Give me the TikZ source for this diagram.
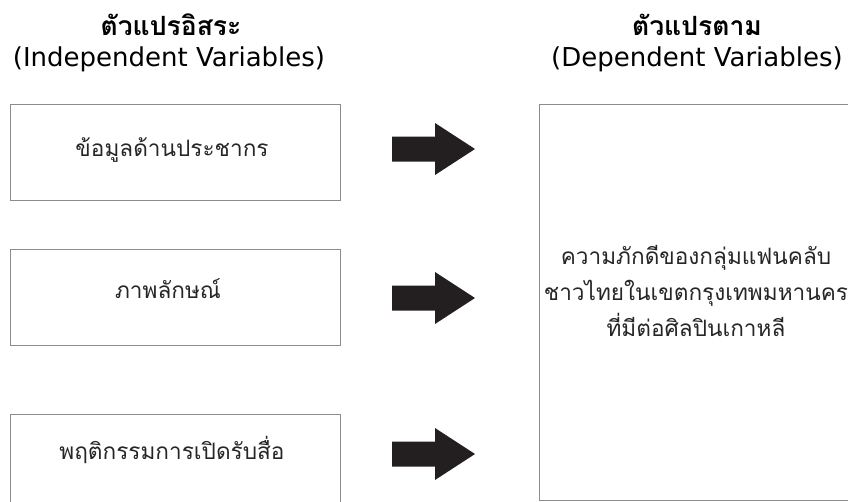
\documentclass[tikz,border=0pt]{standalone}
\usepackage{fontspec}
\newfontfamily\thaifont[Script=Thai]{Loma}
\newfontfamily\latfont{DejaVu Sans}
\definecolor{boxline}{RGB}{140,140,140}
\definecolor{arrowfill}{RGB}{35,31,32}
\tikzset{
  varbox/.style={draw=boxline, line width=0.9pt},
  boxtext/.style={font=\thaifont\fontsize{22.6}{36}\selectfont, text=black!85, align=center, inner sep=0pt},
  thaititle/.style={font=\thaifont\bfseries\fontsize{26.5}{30}\selectfont, inner sep=0pt, anchor=base, text height=18pt, text depth=2pt},
  lattitle/.style={font=\latfont\fontsize{26}{30}\selectfont, inner sep=0pt, anchor=base, text height=18pt, text depth=5pt},
  blockarrow/.pic={\fill[arrowfill] (0,-12.5) -- (43,-12.5) -- (43,-26) -- (83,0) -- (43,26) -- (43,12.5) -- (0,12.5) -- cycle;}
}
\begin{document}
\begin{tikzpicture}[x=1pt,y=-1pt]
\useasboundingbox (0,0) rectangle (848,501);
\clip (0,0) rectangle (848,501);
% titles
\node[thaititle] (t1) at (171,35) {ตัวแปรอิสระ};
\node[lattitle] (t1e) at (169,66) {(Independent Variables)};
\node[thaititle] (t2) at (697,35) {ตัวแปรตาม};
\node[lattitle] (t2e) at (697,66) {(Dependent Variables)};
% left boxes
\draw[varbox] (10,104) rectangle (340,200);
\draw[varbox] (10,249) rectangle (340,345);
\draw[varbox] (10,414) rectangle (340,520);
\node[boxtext] (b1) at (172,150) {ข้อมูลด้านประชากร};
\node[boxtext] (b2) at (168,289) {ภาพลักษณ์};
\node[boxtext] (b3) at (172,450) {พฤติกรรมการเปิดรับสื่อ};
% right box
\draw[varbox] (539,104) rectangle (860,500);
\node[boxtext] (dv) at (696,291) {ความภักดีของกลุ่มแฟนคลับ\\ชาวไทยในเขตกรุงเทพมหานคร\\ที่มีต่อศิลปินเกาหลี};
% arrows
\pic (a1) at (392,149) {blockarrow};
\pic (a2) at (392,298) {blockarrow};
\pic (a3) at (392,454) {blockarrow};
\end{tikzpicture}
\end{document}
